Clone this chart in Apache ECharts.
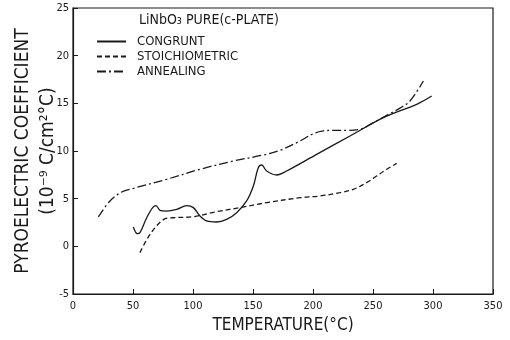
<!DOCTYPE html>
<html><head><meta charset="utf-8">
<script src="https://cdn.jsdelivr.net/npm/echarts@6/dist/echarts.min.js"></script>
<style>html,body{margin:0;padding:0;background:#fff}#c{width:510px;height:340px}</style>
</head><body><div id="c"></div>
<script>
const seriesNames = ['CONGRUNT', 'STOICHIOMETRIC', 'ANNEALING'];
const xTicks = [0, 50, 100, 150, 200, 250, 300, 350];
const yTicks = [-5, 0, 5, 10, 15, 20, 25];
const congruntX = [50.3, 53.6, 55.8, 61.4, 66.4, 69.2, 72.5, 78, 86.4, 94.7, 100.3, 105.8, 111.4, 119.7, 128, 136.4, 144.7, 150.3, 154.4, 157.2, 161.4, 169.7, 178, 203, 230.8, 258.6, 286.4, 298.9];
const congruntY = [2.03, 1.33, 1.43, 3.0, 4.06, 4.27, 3.78, 3.7, 3.88, 4.27, 4.06, 3.18, 2.66, 2.55, 2.83, 3.53, 4.76, 6.33, 8.25, 8.53, 7.9, 7.48, 7.9, 9.65, 11.57, 13.5, 14.9, 15.77];
const stoichX = [55.8, 64.2, 75.3, 83.6, 100.3, 119.7, 139.2, 161.4, 189.2, 205.8, 222.5, 233.6, 244.7, 253, 261.4, 269.7];
const stoichY = [-0.66, 1.26, 2.8, 3.0, 3.11, 3.64, 4.06, 4.58, 5.1, 5.28, 5.63, 5.98, 6.68, 7.38, 8.08, 8.7];
const annealX = [21.1, 30.8, 40.6, 50.3, 78, 105.8, 133.6, 158.6, 172.5, 189.2, 200.3, 208.6, 216.9, 228, 239, 250.3, 261.4, 272.5, 280.8, 292];
const annealY = [3.08, 4.76, 5.7, 6.08, 7.03, 8.08, 8.95, 9.58, 10.07, 11.05, 11.82, 12.1, 12.17, 12.17, 12.27, 12.97, 13.74, 14.5, 15.24, 17.34];

const zip = (xs, ys) => xs.map((x, i) => [x, ys[i]]);
const FONT = 'DejaVu Sans Condensed, DejaVu Sans, sans-serif';
const INK = '#1a1a1a';
const chart = echarts.init(document.getElementById('c'), null, {renderer: 'canvas'});
const dashes = ['solid', [5, 3], [9, 3, 2, 3]];
const datasets = [zip(congruntX, congruntY), zip(stoichX, stoichY), zip(annealX, annealY)];
chart.setOption({
  animation: false,
  backgroundColor: '#fff',
  title: {
    text: 'LiNbO\u2083 PURE(c-PLATE)', left: 134, top: 8,
    textStyle: {fontFamily: FONT, fontSize: 14, fontWeight: 'normal', color: INK}
  },
  legend: {
    orient: 'vertical', left: 91, top: 30, itemWidth: 29, itemHeight: 8, itemGap: 2,
    data: seriesNames,
    itemStyle: {opacity: 0},
    textStyle: {fontFamily: FONT, fontSize: 13, color: INK, padding: [0, 0, 0, 6]}
  },
  grid: {left: 73, right: 17, top: 8, bottom: 46, show: true, borderColor: INK, borderWidth: 1.2, containLabel: false, outerBoundsMode: 'none'},
  xAxis: {
    type: 'value', min: xTicks[0], max: xTicks[xTicks.length - 1], interval: 50,
    name: 'TEMPERATURE(°C)', nameLocation: 'middle', nameGap: 22,
    nameTextStyle: {fontFamily: FONT, fontSize: 17, color: INK},
    axisLine: {onZero: false, lineStyle: {color: INK, width: 1.2}},
    axisTick: {inside: true, length: 5, lineStyle: {color: INK}},
    axisLabel: {fontFamily: FONT, fontSize: 11, color: INK, margin: 7},
    splitLine: {show: false}
  },
  yAxis: {
    type: 'value', min: yTicks[0], max: yTicks[yTicks.length - 1], interval: 5,
    name: 'PYROELECTRIC COEFFICIENT\n(10\u207B\u2079 C/cm\u00B2\u00B0C)', nameLocation: 'middle', nameGap: 12,
    nameMoveOverlap: false,
    nameTextStyle: {fontFamily: FONT, fontSize: 19, color: INK, lineHeight: 25},
    axisLine: {show: true, onZero: false, lineStyle: {color: INK, width: 1.2}},
    axisTick: {inside: true, length: 5, lineStyle: {color: INK}},
    axisLabel: {fontFamily: FONT, fontSize: 11, color: INK, margin: 4},
    splitLine: {show: false}
  },
  series: seriesNames.map((n, i) => ({
    name: n, type: 'line', data: datasets[i], smooth: 0.35, showSymbol: false, symbol: 'none',
    lineStyle: {color: INK, width: 1.3, type: dashes[i]}, itemStyle: {color: INK}
  }))
});
</script></body></html>
